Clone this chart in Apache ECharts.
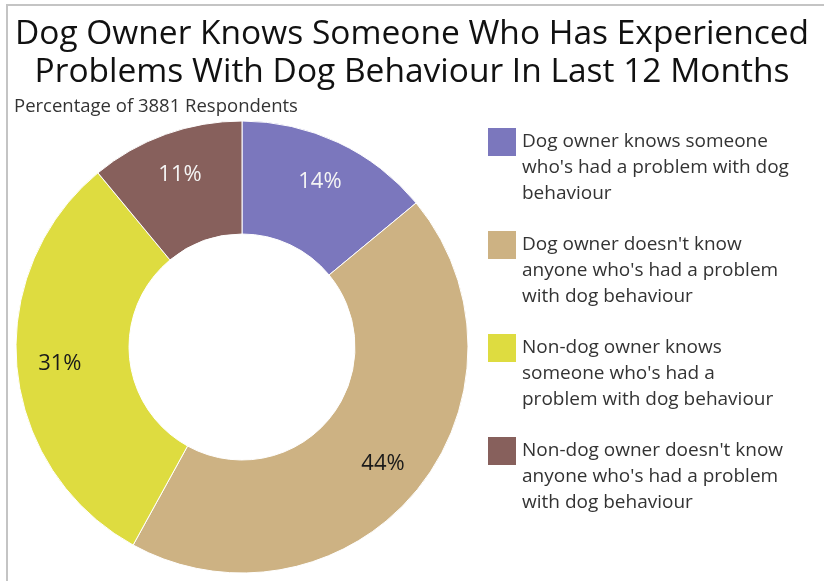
<!DOCTYPE html>
<html>
<head>
<meta charset="utf-8">
<style>
  html, body { margin: 0; padding: 0; background: #ffffff; }
  #chart { width: 824px; height: 581px; }
</style>
<script src="https://cdn.jsdelivr.net/npm/echarts@6/dist/echarts.min.js"></script>
</head>
<body>
<div id="chart"></div>
<script>
// Survey groups and their share of respondents (%)
const categories = [
  "Dog owner knows someone\nwho's had a problem with dog\nbehaviour",
  "Dog owner doesn't know\nanyone who's had a problem\nwith dog behaviour",
  "Non-dog owner knows\nsomeone who's had a\nproblem with dog behaviour",
  "Non-dog owner doesn't know\nanyone who's had a problem\nwith dog behaviour"
];
const shares = [14, 44, 31, 11];
const sliceColors = ['#7b77bd', '#cdb283', '#dedc40', '#87605c'];
const labelColors = ['#f4f4f4', '#1a1a1a', '#1a1a1a', '#f4f4f4'];

const titleText = 'Dog Owner Knows Someone Who Has Experienced\nProblems With Dog Behaviour In Last 12 Months';
const subtitleText = 'Percentage of 3881 Respondents';

const FONT = 'Open Sans';

const chart = echarts.init(document.getElementById('chart'), null, { renderer: 'canvas' });

const sliceData = categories.map((name, i) => ({
  name: name,
  value: shares[i],
  itemStyle: { color: sliceColors[i] }
}));

const labelData = categories.map((name, i) => ({
  name: name,
  value: shares[i],
  label: { color: labelColors[i] }
}));

chart.setOption({
  backgroundColor: '#ffffff',
  animation: false,
  title: [
    {
      text: titleText,
      left: 'center',
      top: 10,
      textStyle: { fontFamily: FONT, fontSize: 33.5, fontWeight: 'normal', color: '#111', lineHeight: 38, align: 'center' }
    },
    {
      text: subtitleText,
      left: 9,
      top: 92,
      textStyle: { fontFamily: FONT, fontSize: 18.5, fontWeight: 'normal', color: '#333' }
    }
  ],
  legend: {
    orient: 'vertical',
    left: 481,
    top: 72,
    itemWidth: 30,
    itemHeight: 30,
    itemGap: -27,
    icon: 'rect',
    selectedMode: false,
    data: categories,
    // two leading blank lines put the first text line level with the swatch
    formatter: name => '\n\n' + name,
    textStyle: {
      fontFamily: FONT, fontSize: 19, color: '#333', lineHeight: 26
    }
  },
  graphic: [{
    type: 'rect',
    silent: true,
    z: 100,
    shape: { x: 7, y: 5, width: 840, height: 600 },
    style: { fill: 'none', stroke: '#c4c4c4', lineWidth: 2 }
  }],
  series: [
    {
      type: 'pie',
      center: [242, 347],
      radius: [113, 226],
      startAngle: 90,
      clockwise: true,
      silent: true,
      data: sliceData,
      itemStyle: { borderColor: '#ffffff', borderWidth: 1 },
      label: { show: false },
      labelLine: { show: false }
    },
    {
      // transparent ring used only to place the percentage labels
      type: 'pie',
      center: [242, 347],
      radius: [134, 226],
      startAngle: 90,
      clockwise: true,
      silent: true,
      data: labelData,
      itemStyle: { color: 'rgba(0,0,0,0)' },
      label: {
        show: true,
        position: 'inside',
        formatter: '{c}%',
        fontFamily: FONT,
        fontSize: 22
      },
      labelLine: { show: false }
    }
  ]
});
</script>
</body>
</html>
